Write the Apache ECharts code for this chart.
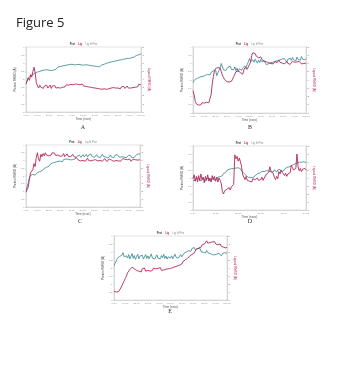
<!DOCTYPE html>
<html>
<head>
<meta charset="utf-8">
<script src="https://cdn.jsdelivr.net/npm/echarts@6/dist/echarts.min.js"></script>
<style>
  html, body { margin: 0; padding: 0; background: #fff; }
  #chart { width: 338px; height: 366px; }
</style>
</head>
<body>
<div id="chart"></div>
<script>
// Protein / ligand RMSD traces for the five simulations (A-E)
const panelNames = ['A', 'B', 'C', 'D', 'E'];
const timeMax = [100, 100, 100, 50, 100];
const timeTicks = [10, 10, 10, 10, 10];

const protA = [1.70,1.95,2.10,2.05,2.22,2.18,2.30,2.34,2.40,2.36,
  2.46,2.42,2.50,2.47,2.55,2.49,2.58,2.52,2.60,2.54,
  2.57,2.62,2.55,2.60,2.58,2.66,2.62,2.70,2.78,2.84,
  2.80,2.88,2.84,2.92,2.86,2.95,2.90,2.98,2.92,2.88,
  2.94,2.86,2.90,2.84,2.92,2.87,2.93,2.85,2.90,2.82,
  2.88,2.84,2.91,2.85,2.89,2.80,2.86,2.78,2.84,2.76,
  2.82,2.74,2.80,2.86,2.78,2.84,2.90,2.86,2.94,2.98,
  3.00,2.96,3.04,3.00,3.08,3.04,3.10,3.06,3.14,3.12,
  3.18,3.14,3.20,3.16,3.24,3.20,3.26,3.22,3.30,3.24,
  3.30,3.26,3.34,3.30,3.38,3.34,3.48,3.40,3.52,3.46,3.58];
const ligA = [3.50,3.80,4.20,3.90,4.60,4.30,5.00,5.50,4.80,3.60,
  3.20,2.95,3.30,3.05,3.25,2.90,3.20,3.00,3.30,2.95,
  3.15,3.30,2.90,3.20,3.05,3.25,2.95,3.10,3.00,3.20,
  2.95,3.15,3.05,3.25,3.10,3.35,3.15,3.30,3.10,3.40,
  3.20,3.35,3.15,3.45,3.25,3.40,3.20,3.35,3.30,3.45,
  3.20,3.35,3.15,3.30,3.10,3.25,3.05,3.20,3.00,3.15,
  2.95,3.10,2.90,3.05,2.85,3.00,2.80,2.95,2.85,3.00,
  2.80,2.95,2.85,2.75,2.95,2.80,3.00,2.85,2.95,2.80,
  2.95,3.05,2.85,3.10,2.95,3.15,2.90,3.05,3.20,2.95,
  3.10,2.95,3.15,3.00,3.20,3.05,3.25,3.10,3.40,3.30,3.35];

const protB = [1.85,1.98,1.92,2.08,2.00,2.14,2.06,2.20,2.12,2.22,
  2.16,2.28,2.20,2.34,2.40,2.30,2.46,2.38,2.55,2.48,
  2.60,2.26,2.44,2.58,2.74,3.00,2.80,2.62,2.70,2.58,
  2.66,2.78,2.90,2.84,2.64,2.76,2.62,2.80,2.56,2.72,
  2.50,2.68,2.78,2.58,2.74,2.66,2.86,2.72,2.96,3.10,
  3.30,3.12,3.04,3.22,3.08,3.26,3.14,3.02,3.20,3.06,
  3.24,3.10,2.98,3.16,3.04,2.92,2.86,3.00,2.90,3.06,
  2.94,3.08,2.98,3.14,3.02,3.18,3.06,3.22,3.12,3.28,
  3.16,3.30,3.20,3.08,3.26,3.14,3.32,3.18,3.36,3.22,
  3.30,3.16,3.38,3.24,3.34,3.20,3.42,3.26,3.36,3.22,3.30];
const ligB = [2.70,2.20,1.40,1.10,1.20,0.95,1.15,1.00,1.25,1.05,
  1.20,0.98,1.30,1.10,1.25,1.45,2.20,3.50,4.40,5.10,
  5.40,5.20,5.50,5.30,5.45,5.00,4.60,4.30,4.05,3.90,
  3.80,3.95,3.75,3.90,3.85,4.10,4.40,4.70,5.00,4.80,
  5.10,5.30,4.90,5.00,4.70,5.20,5.50,5.70,5.30,5.60,
  5.40,6.20,7.00,7.30,7.10,7.20,6.90,7.00,6.70,6.60,
  6.80,6.50,6.60,6.30,6.50,6.20,6.40,6.10,6.30,6.00,
  6.20,5.95,6.15,6.30,6.05,6.25,6.40,6.15,6.30,6.05,
  6.20,5.95,6.10,6.25,6.00,6.20,5.90,6.10,6.25,6.05,
  6.15,5.95,6.20,6.05,6.25,6.10,5.95,6.15,6.00,6.10,6.05];

const protC = [1.08,1.20,1.55,1.90,2.04,2.00,2.10,2.14,2.06,2.18,
  2.22,2.12,2.28,2.20,2.34,2.44,2.48,2.38,2.56,2.50,
  2.62,2.70,2.80,2.72,2.86,2.78,2.90,2.84,2.94,2.88,
  2.96,3.04,2.92,3.06,2.98,3.10,3.02,3.08,3.14,3.04,
  3.12,3.06,3.18,3.10,3.22,3.28,3.16,3.34,3.20,3.30,
  3.38,3.24,3.32,3.40,3.22,3.36,3.28,3.42,3.26,3.34,
  3.20,3.30,3.38,3.24,3.34,3.18,3.30,3.40,3.26,3.36,
  3.22,3.32,3.16,3.28,3.36,3.22,3.30,3.18,3.34,3.24,
  3.38,3.26,3.20,3.32,3.24,3.36,3.22,3.30,3.18,3.28,
  3.34,3.22,3.30,3.16,3.26,3.20,3.32,3.38,3.28,3.44,3.40];
const ligC = [1.90,2.10,2.60,3.60,4.40,4.20,4.80,5.60,5.20,6.40,
  7.00,6.20,5.90,6.80,6.50,6.90,6.60,7.00,6.70,6.90,
  6.60,6.85,6.70,7.00,6.75,6.95,6.65,6.90,6.70,6.80,
  6.55,6.80,6.60,6.90,6.50,6.75,6.85,6.55,6.70,6.45,
  6.65,6.80,6.50,6.70,6.40,6.20,6.05,6.25,5.95,6.15,
  6.00,6.20,5.90,6.10,6.30,6.00,6.15,5.95,6.20,6.05,
  5.90,6.10,6.25,5.95,6.15,6.00,6.20,5.90,6.05,6.25,
  6.00,5.85,6.10,6.20,5.95,6.05,6.15,5.90,6.10,6.00,
  6.20,5.95,6.10,5.90,6.05,6.25,6.00,6.15,5.95,6.10,
  6.00,6.20,5.90,6.05,6.15,6.00,6.10,6.25,6.05,6.20,6.10];

const protD = [1.86,1.98,1.84,2.00,1.88,1.96,1.82,1.94,1.86,2.02,
  1.90,1.80,1.96,1.88,2.00,1.84,1.94,1.90,2.04,1.86,
  1.98,1.92,2.06,1.94,2.08,2.00,2.14,2.28,2.40,2.34,
  2.48,2.42,2.54,2.46,2.58,2.50,2.60,2.52,2.62,2.56,
  2.64,2.52,2.58,2.44,2.36,2.30,2.24,2.16,2.10,2.04,
  1.98,2.04,1.96,2.02,2.08,2.14,2.20,2.26,2.22,2.30,
  2.36,2.42,2.48,2.40,2.52,2.46,2.56,2.44,2.50,2.40,
  2.48,2.38,2.52,2.44,2.36,2.50,2.42,2.54,2.40,2.48,
  2.44,2.56,2.62,2.54,2.68,2.60,2.72,2.66,2.80,2.74,
  2.88,2.80,2.92,2.86,3.00,2.90,2.98,2.88,3.02,2.94,2.96];
const ligD = [3.90,4.40,3.60,4.20,3.50,4.30,3.70,4.50,3.80,4.10,
  3.40,4.20,3.70,4.40,3.60,4.00,3.50,4.30,3.80,4.20,
  3.60,4.10,3.50,4.00,3.70,3.30,2.30,2.00,2.40,2.20,
  2.60,2.40,2.80,2.50,2.90,2.70,3.20,6.90,6.40,6.70,
  6.10,6.50,6.00,5.40,4.40,4.10,3.80,4.20,3.70,3.90,
  3.60,3.80,3.50,3.90,3.70,3.80,3.60,4.00,3.70,3.90,
  3.80,4.10,3.70,4.00,3.90,4.50,4.30,4.70,5.40,4.80,
  5.00,4.60,4.10,3.80,4.20,3.90,4.80,4.50,5.00,4.70,
  4.90,4.30,4.60,4.20,4.50,4.40,4.70,5.60,5.30,5.00,
  4.80,5.20,7.00,5.40,4.90,5.20,4.80,5.10,4.90,5.20,5.00];

const protE = [2.16,2.30,2.44,2.60,2.52,2.72,2.64,2.80,2.96,2.70,
  2.58,2.76,2.62,2.84,2.56,2.72,2.90,2.60,2.78,2.54,
  2.70,2.86,2.58,2.74,2.62,2.80,2.56,2.68,2.84,2.60,
  2.76,2.58,2.70,2.88,2.62,2.74,2.56,2.68,2.82,2.60,
  2.72,2.58,2.78,2.64,2.86,2.60,2.74,2.56,2.70,2.82,
  2.62,2.76,2.58,2.72,2.86,2.66,2.78,2.62,2.74,2.84,
  2.70,2.80,2.92,2.86,3.00,2.90,3.08,3.16,3.04,3.22,
  3.10,3.28,3.14,3.06,3.20,3.12,3.24,3.02,3.14,2.98,
  3.08,2.94,3.10,2.96,3.06,2.90,3.00,2.84,2.96,2.82,
  2.94,2.86,2.78,2.92,2.84,2.76,2.90,2.82,2.96,2.88,2.92];
const ligE = [1.10,0.90,1.00,0.85,1.05,1.20,1.50,1.80,2.10,2.40,
  2.70,3.00,3.40,3.20,3.80,3.60,4.10,4.30,3.90,4.10,
  3.70,3.90,3.60,3.80,3.50,3.90,3.70,4.00,3.60,3.80,
  3.70,3.95,3.60,3.85,3.70,4.00,3.75,3.90,3.65,3.95,
  3.80,4.05,3.70,3.90,3.75,4.00,3.85,4.10,3.90,4.05,
  3.95,4.20,4.05,4.30,4.15,4.40,4.25,4.50,4.35,4.60,
  4.50,4.80,4.70,5.00,4.85,5.20,5.10,5.50,5.30,5.70,
  5.60,5.90,6.10,6.40,6.20,6.50,6.70,6.60,6.90,6.80,
  7.00,7.20,7.40,7.10,7.30,7.20,7.00,7.25,7.10,7.30,
  7.00,7.15,6.90,6.80,7.00,6.70,6.85,6.60,6.75,6.50,6.60];

const protSeries = [protA, protB, protC, protD, protE];
const ligSeries = [ligA, ligB, ligC, ligD, ligE];

const TEAL = '#3e8a92';
const CRIMSON = '#b3265a';
const GREY = '#8a8a8a';

// plot boxes (pixels)
const boxes = [
  { left: 26, top: 47, width: 115, height: 65 },
  { left: 193, top: 47, width: 113, height: 66 },
  { left: 26, top: 145, width: 114, height: 62 },
  { left: 193, top: 146, width: 113, height: 64 },
  { left: 114, top: 236, width: 113, height: 64 }
];

const grid = [], xAxis = [], yAxis = [], series = [], graphic = [];

boxes.forEach((b, i) => {
  grid.push({ left: b.left, top: b.top, width: b.width, height: b.height,
    show: true, borderColor: '#c4c4c4', borderWidth: 0.5, backgroundColor: '#fff' });
  xAxis.push({
    type: 'value', gridIndex: i, min: 0, max: timeMax[i], interval: timeTicks[i],
    name: 'Time (nsec)', nameLocation: 'middle', nameGap: 5,
    nameTextStyle: { fontSize: 3, color: '#555', fontFamily: 'Liberation Sans' },
    axisLine: { lineStyle: { color: '#bbb', width: 0.5 } },
    axisTick: { length: 1, lineStyle: { color: '#bbb', width: 0.4 } },
    axisLabel: { fontSize: 2.5, color: GREY, margin: 1.5,
      formatter: v => v.toFixed(2), fontFamily: 'Liberation Sans' },
    splitLine: { show: false }
  });
  yAxis.push({
    type: 'value', gridIndex: i, position: 'left', min: 0, max: 4, interval: 0.5,
    name: 'Protein RMSD (Å)', nameLocation: 'middle', nameGap: 7, nameRotate: 90,
    nameTextStyle: { fontSize: 3, color: '#444', fontFamily: 'Liberation Sans' },
    axisLine: { show: true, lineStyle: { color: '#bbb', width: 0.5 } },
    axisTick: { show: true, length: 1, lineStyle: { color: '#bbb', width: 0.4 } },
    axisLabel: { fontSize: 2.5, color: GREY, margin: 1.5, fontFamily: 'Liberation Sans' },
    splitLine: { show: false }
  });
  yAxis.push({
    type: 'value', gridIndex: i, position: 'right', min: 0, max: 8, interval: 1,
    name: 'Ligand RMSD (Å)', nameLocation: 'middle', nameGap: 6, nameRotate: -90,
    nameTextStyle: { fontSize: 3, color: CRIMSON, fontFamily: 'Liberation Sans' },
    axisLine: { show: true, lineStyle: { color: '#bbb', width: 0.5 } },
    axisTick: { show: true, length: 1, lineStyle: { color: '#bbb', width: 0.4 } },
    axisLabel: { fontSize: 2.5, color: CRIMSON, margin: 1.5, fontFamily: 'Liberation Sans' },
    splitLine: { show: false }
  });
  const step = timeMax[i] / (protSeries[i].length - 1);
  series.push({
    type: 'line', xAxisIndex: i, yAxisIndex: 2 * i, showSymbol: false, silent: true,
    data: protSeries[i].map((v, k) => [k * step, v]),
    lineStyle: { color: TEAL, width: 0.85 }, z: 3
  });
  series.push({
    type: 'line', xAxisIndex: i, yAxisIndex: 2 * i + 1, showSymbol: false, silent: true,
    data: ligSeries[i].map((v, k) => [k * step, v]),
    lineStyle: { color: CRIMSON, width: 0.9 }, z: 4
  });
  // small legend-style title above each plot
  graphic.push({
    type: 'text', x: b.left + b.width / 2, y: b.top - 2.5,
    style: {
      text: '{a|Prot} {b|Lig} {c|Lig fit Prot}',
      align: 'center', verticalAlign: 'middle', fontFamily: 'Liberation Sans',
      rich: {
        a: { fontSize: 2.6, fill: '#333', fontWeight: 'bold' },
        b: { fontSize: 2.6, fill: CRIMSON, fontWeight: 'bold' },
        c: { fontSize: 2.6, fill: '#888' }
      }
    }
  });
});

// panel letters
const letterPos = [[83, 127], [250, 127], [80, 221], [250, 221], [170, 311]];
letterPos.forEach((p, i) => {
  graphic.push({ type: 'text', x: p[0], y: p[1],
    style: { text: panelNames[i], fontSize: 6, fontFamily: 'Liberation Serif',
      fill: '#333', align: 'center', verticalAlign: 'middle' } });
});

graphic.push({ type: 'text', x: 16, y: 23,
  style: { text: 'Figure 5', fontSize: 13, fontFamily: 'Open Sans', fill: '#222',
    verticalAlign: 'middle' } });

const chart = echarts.init(document.getElementById('chart'), null, { renderer: 'canvas' });
chart.setOption({
  animation: false,
  backgroundColor: '#fff',
  grid, xAxis, yAxis, series, graphic
});
</script>
</body>
</html>
